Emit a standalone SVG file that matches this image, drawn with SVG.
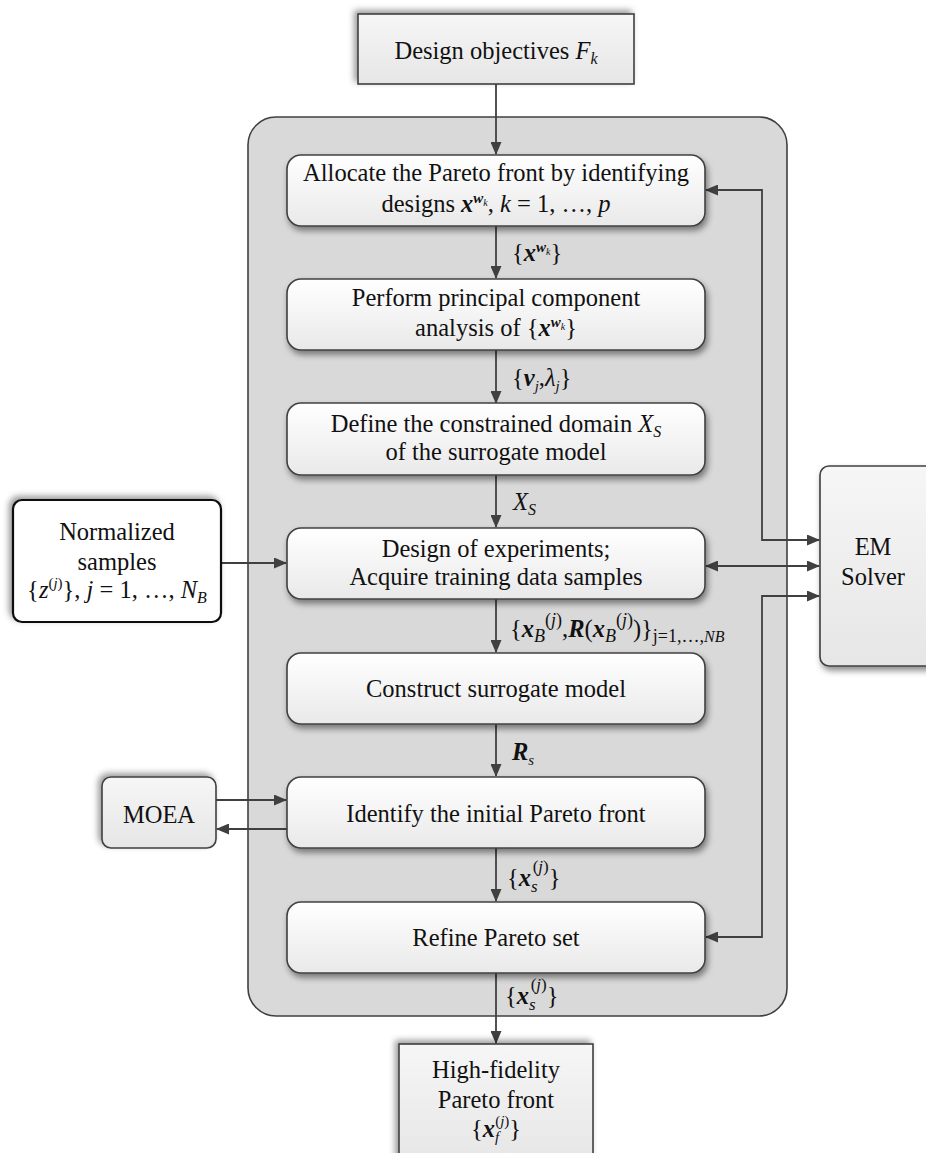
<svg xmlns="http://www.w3.org/2000/svg" width="926" height="1153" viewBox="0 0 926 1153">
<style>
.t{font-family:"Liberation Serif","Times New Roman",serif;font-size:24.5px;fill:#111}
.i{font-style:italic}
.b{font-weight:bold}
.box{fill:url(#gw);stroke:#404040;stroke-width:1.6}
.gbox{fill:url(#gg);stroke:#404040;stroke-width:1.6}
.c{fill:none;stroke:#404040;stroke-width:1.8}
</style>
<defs>
<linearGradient id="gw" x1="0" y1="0" x2="0" y2="1"><stop offset="0" stop-color="#ffffff"/><stop offset="1" stop-color="#e9e9e9"/></linearGradient>
<linearGradient id="gg" x1="0" y1="0" x2="0" y2="1"><stop offset="0" stop-color="#f6f6f6"/><stop offset="1" stop-color="#e6e6e6"/></linearGradient>
<filter id="sh" x="-10%" y="-10%" width="120%" height="130%"><feDropShadow dx="2" dy="4" stdDeviation="3" flood-color="#000" flood-opacity="0.45"/></filter>
<filter id="sh2" x="-10%" y="-15%" width="120%" height="130%"><feDropShadow dx="-3" dy="-3" stdDeviation="3" flood-color="#000" flood-opacity="0.4"/></filter>
<marker id="ah" markerWidth="13" markerHeight="11" refX="12" refY="5.5" orient="auto-start-reverse" markerUnits="userSpaceOnUse"><path d="M0,0 L13,5.5 L0,11 z" fill="#404040"/></marker>
</defs>

<g id="container"><rect x="248" y="117" width="539" height="899" rx="28" fill="#d9d9d9" stroke="#404040" stroke-width="1.6"/></g>

<g id="connectors">
<line class="c" x1="496" y1="84" x2="496" y2="154" marker-end="url(#ah)"/>
<line class="c" x1="496" y1="226" x2="496" y2="278" marker-end="url(#ah)"/>
<line class="c" x1="496" y1="350" x2="496" y2="403" marker-end="url(#ah)"/>
<line class="c" x1="496" y1="475" x2="496" y2="527" marker-end="url(#ah)"/>
<line class="c" x1="496" y1="599" x2="496" y2="652" marker-end="url(#ah)"/>
<line class="c" x1="496" y1="724" x2="496" y2="776" marker-end="url(#ah)"/>
<line class="c" x1="496" y1="848" x2="496" y2="901" marker-end="url(#ah)"/>
<line class="c" x1="496" y1="973" x2="496" y2="1043" marker-end="url(#ah)"/>
<line class="c" x1="221" y1="563" x2="286" y2="563" marker-end="url(#ah)"/>
<line class="c" x1="216" y1="800" x2="286" y2="800" marker-end="url(#ah)"/>
<line class="c" x1="287" y1="829" x2="217" y2="829" marker-end="url(#ah)"/>
<polyline class="c" points="706,190 762,190 762,540 819,540" marker-start="url(#ah)" marker-end="url(#ah)"/>
<line class="c" x1="706" y1="566" x2="819" y2="566" marker-start="url(#ah)" marker-end="url(#ah)"/>
<polyline class="c" points="706,937 762,937 762,596 819,596" marker-start="url(#ah)" marker-end="url(#ah)"/>
</g>

<g id="n-objectives">
<rect x="358" y="14" width="276" height="70" class="gbox" filter="url(#sh2)"/>
<text class="t" x="496" y="59" text-anchor="middle">Design objectives <tspan class="i">F</tspan><tspan class="i" font-size="16" dy="5">k</tspan></text>
</g>

<g id="n-allocate">
<rect x="287" y="155" width="418" height="71" rx="14" class="box" filter="url(#sh)"/>
<text class="t" x="496" y="181" text-anchor="middle">Allocate the Pareto front by identifying</text>
<text class="t" x="496" y="212" text-anchor="middle">designs <tspan class="i b">x</tspan><tspan class="i b" font-size="15" dy="-9">w</tspan><tspan class="i" font-size="10" dy="3">k</tspan><tspan dy="6">, </tspan><tspan class="i">k</tspan> = 1, …, <tspan class="i">p</tspan></text>
</g>

<g id="n-pca">
<rect x="287" y="279" width="418" height="71" rx="14" class="box" filter="url(#sh)"/>
<text class="t" x="496" y="306" text-anchor="middle">Perform principal component</text>
<text class="t" x="496" y="336" text-anchor="middle">analysis of {<tspan class="i b">x</tspan><tspan class="i b" font-size="15" dy="-9">w</tspan><tspan class="i" font-size="10" dy="3">k</tspan><tspan dy="6">}</tspan></text>
</g>

<g id="n-domain">
<rect x="287" y="403" width="418" height="72" rx="14" class="box" filter="url(#sh)"/>
<text class="t" x="496" y="432" text-anchor="middle">Define the constrained domain <tspan class="i">X</tspan><tspan class="i" font-size="16" dy="5">S</tspan></text>
<text class="t" x="496" y="460" text-anchor="middle">of the surrogate model</text>
</g>

<g id="n-doe">
<rect x="287" y="528" width="418" height="71" rx="14" class="box" filter="url(#sh)"/>
<text class="t" x="496" y="557" text-anchor="middle">Design of experiments;</text>
<text class="t" x="496" y="585" text-anchor="middle">Acquire training data samples</text>
</g>

<g id="n-construct">
<rect x="287" y="653" width="418" height="71" rx="14" class="box" filter="url(#sh)"/>
<text class="t" x="496" y="697" text-anchor="middle">Construct surrogate model</text>
</g>

<g id="n-identify">
<rect x="287" y="777" width="418" height="71" rx="14" class="box" filter="url(#sh)"/>
<text class="t" x="496" y="822" text-anchor="middle">Identify the initial Pareto front</text>
</g>

<g id="n-refine">
<rect x="287" y="902" width="418" height="71" rx="14" class="box" filter="url(#sh)"/>
<text class="t" x="496" y="946" text-anchor="middle">Refine Pareto set</text>
</g>

<g id="n-hifi">
<rect x="399" y="1044" width="194" height="120" class="gbox" filter="url(#sh2)"/>
<text class="t" x="496" y="1078" text-anchor="middle">High-fidelity</text>
<text class="t" x="496" y="1108" text-anchor="middle">Pareto front</text>
<text class="t" x="496" y="1137" text-anchor="middle">{<tspan class="i b">x</tspan><tspan class="i" font-size="15" dy="5">f</tspan><tspan font-size="15" dx="-4" dy="-16">(</tspan><tspan class="i" font-size="15">j</tspan><tspan font-size="15">)</tspan><tspan dy="11">}</tspan></text>
</g>

<g id="n-normalized">
<rect x="13" y="500" width="208" height="122" rx="9" fill="#ffffff" stroke="#111" stroke-width="2.2" filter="url(#sh2)"/>
<text class="t" x="117" y="540" text-anchor="middle">Normalized</text>
<text class="t" x="117" y="570" text-anchor="middle">samples</text>
<text class="t" x="117" y="598" text-anchor="middle">{<tspan class="i">z</tspan><tspan font-size="15" dy="-10">(</tspan><tspan class="i" font-size="15">j</tspan><tspan font-size="15">)</tspan><tspan dy="10">}, </tspan><tspan class="i">j</tspan> = 1, …, <tspan class="i">N</tspan><tspan class="i" font-size="16" dy="5">B</tspan></text>
</g>

<g id="n-moea">
<rect x="102" y="777" width="114" height="71" rx="9" class="gbox" filter="url(#sh2)"/>
<text class="t" x="159" y="823" text-anchor="middle">MOEA</text>
</g>

<g id="n-em">
<rect x="820" y="466" width="124" height="200" rx="9" class="gbox" filter="url(#sh)"/>
<text class="t" x="873" y="555" text-anchor="middle">EM</text>
<text class="t" x="873" y="585" text-anchor="middle">Solver</text>
</g>

<g id="labels">
<text class="t" x="512" y="261">{<tspan class="i b">x</tspan><tspan class="i b" font-size="15" dy="-9">w</tspan><tspan class="i" font-size="10" dy="3">k</tspan><tspan dy="6">}</tspan></text>
<text class="t" x="512" y="386">{<tspan class="i b">v</tspan><tspan class="i" font-size="15" dy="5">j</tspan><tspan dy="-5">,</tspan><tspan class="i">λ</tspan><tspan class="i" font-size="15" dy="5">j</tspan><tspan dy="-5">}</tspan></text>
<text class="t" x="513" y="510"><tspan class="i">X</tspan><tspan class="i" font-size="16" dy="5">S</tspan></text>
<text class="t" x="510" y="637" font-size="28">{<tspan class="i b">x</tspan><tspan class="i" font-size="18" dy="5">B</tspan><tspan font-size="18" dy="-16">(</tspan><tspan class="i" font-size="18">j</tspan><tspan font-size="18">)</tspan><tspan dy="11">,</tspan><tspan class="i b">R</tspan>(<tspan class="i b">x</tspan><tspan class="i" font-size="18" dy="5">B</tspan><tspan font-size="18" dy="-16">(</tspan><tspan class="i" font-size="18">j</tspan><tspan font-size="18">)</tspan><tspan dy="11">)}</tspan><tspan font-size="18" dy="5">j=1,…,</tspan><tspan class="i" font-size="16">NB</tspan></text>
<text class="t" x="512" y="760"><tspan class="i b">R</tspan><tspan class="i" font-size="15" dy="5">s</tspan></text>
<text class="t" x="507" y="886" font-size="28">{<tspan class="i b">x</tspan><tspan class="i" font-size="17" dy="6">s</tspan><tspan font-size="17" dx="-5" dy="-20">(</tspan><tspan class="i" font-size="17">j</tspan><tspan font-size="17">)</tspan><tspan dy="14">}</tspan></text>
<text class="t" x="505" y="1004" font-size="28">{<tspan class="i b">x</tspan><tspan class="i" font-size="17" dy="6">s</tspan><tspan font-size="17" dx="-5" dy="-20">(</tspan><tspan class="i" font-size="17">j</tspan><tspan font-size="17">)</tspan><tspan dy="14">}</tspan></text>
</g>
</svg>
